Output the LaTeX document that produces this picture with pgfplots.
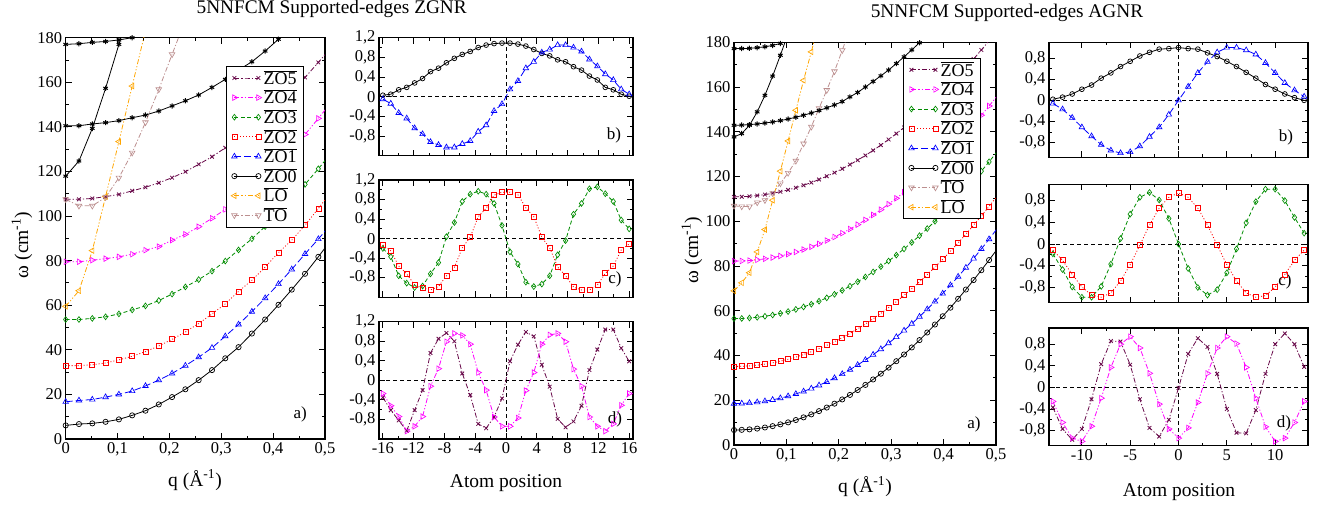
\documentclass[border=0pt]{standalone}
\usepackage{fontspec}
\setmainfont{Liberation Serif}
\usepackage{pgfplots}
\usepackage{pgfplotstable}
\pgfplotsset{compat=1.18}

\definecolor{czofive}{RGB}{103,7,72}
\definecolor{czothree}{RGB}{0,140,0}
\definecolor{corange}{RGB}{255,165,0}
\definecolor{cto}{RGB}{188,143,143}
\definecolor{cmag}{RGB}{255,0,255}

\pgfplotsset{
  zo5/.style={czofive, line width=0.8pt, dash pattern=on 5pt off 2pt on 1.2pt off 2pt, mark=x, mark size=2.6pt, mark options={solid, line width=0.8pt}},
  zo4/.style={cmag, line width=0.8pt, dash pattern=on 5pt off 2pt on 1.2pt off 2pt on 1.2pt off 2pt, mark=triangle, mark size=3.2pt, mark options={solid, line width=0.65pt, rotate=-90}},
  zo3/.style={czothree, line width=0.8pt, dash pattern=on 4pt off 2.5pt, mark=diamond, mark size=2.9pt, mark options={solid, line width=0.65pt}},
  zo2/.style={red, line width=0.8pt, dash pattern=on 1pt off 2pt, mark=square, mark size=2.5pt, mark options={solid, line width=0.7pt}},
  zo1/.style={blue, line width=0.8pt, dash pattern=on 7pt off 3pt, mark=triangle, mark size=3.2pt, mark options={solid, line width=0.65pt}},
  zo0/.style={black, line width=0.8pt, solid, mark=o, mark size=2.6pt, mark options={line width=0.7pt}},
  lo/.style={corange, line width=0.8pt, dash pattern=on 5pt off 2pt on 1.2pt off 2pt on 1.2pt off 2pt, mark=triangle, mark size=3.2pt, mark options={solid, line width=0.65pt, rotate=90}},
  to/.style={cto, line width=0.8pt, dash pattern=on 5pt off 2pt on 1.2pt off 2pt, mark=triangle, mark size=3.2pt, mark options={solid, line width=0.65pt, rotate=180}},
  hi/.style={black, line width=0.8pt, solid, mark=asterisk, mark size=2.6pt, mark options={line width=1pt}},
  legend image code/.code={\draw[mark repeat=2,mark phase=1,#1] plot coordinates {(0pt,0pt) (12pt,0pt) (24pt,0pt)};},
  myax/.style={scale only axis, anchor=south west, axis line style={line width=1.1pt},
    tick align=inside, tick pos=both, major tick length=6pt, minor tick length=3pt,
    every tick/.style={black, line width=0.9pt},
    tick label style={font=\fontsize{16.5}{16.5}\selectfont}, clip=true},
  bigax/.style={myax, xmin=0, xmax=0.5, ymin=0, ymax=180,
    xtick={0,0.1,0.2,0.3,0.4,0.5}, xticklabels={0,{0,1},{0,2},{0,3},{0,4},{0,5}},
    ytick={0,20,40,60,80,100,120,140,160,180}, yticklabels={0,20,40,60,80,100,120,140,160,180},
    minor tick num=1, legend cell align=left,
    legend style={draw=black, line width=1pt, fill=white, font=\fontsize{18}{18}\selectfont, inner xsep=5pt, inner ysep=2pt, row sep=0.2pt,
      /tikz/every even column/.append style={column sep=4pt}}},
  zsmall/.style={myax, width=254pt, xmin=-16.5, xmax=16.5, ymin=-1.2, ymax=1.2,
    xtick={-16,-12,-8,-4,0,4,8,12,16}, xticklabels={},
    ytick={-0.8,-0.4,0,0.4,0.8,1.2}, yticklabels={{-0,8},{-0,4},0,{0,4},{0,8},{1,2}},
    minor tick num=1},
  asmall/.style={myax, width=259pt, xmin=-13.4, xmax=13.4, ymin=-1.08, ymax=1.1,
    xtick={-10,-5,0,5,10}, xticklabels={},
    ytick={-0.8,-0.4,0,0.4,0.8}, yticklabels={{-0,8},{-0,4},0,{0,4},{0,8}},
    minor tick num=1},
}

\pgfplotstableread{
q z0 z1 z2 z3 z4 z5
0.0000 6.1 16.7 32.9 53.6 79.5 107.5
0.0256 6.7 17.3 32.9 53.6 79.5 107.5
0.0513 7.0 17.7 33.3 54.1 80.2 107.9
0.0769 7.7 18.8 34.1 54.8 80.9 108.7
0.1026 8.8 20.0 35.5 56.1 81.7 109.7
0.1282 10.6 21.5 37.1 57.9 82.9 111.3
0.1538 12.7 23.8 39.2 59.7 84.7 112.9
0.1795 15.5 26.4 41.7 62.1 86.3 114.9
0.2051 18.8 29.4 44.7 65.0 89.2 117.2
0.2308 22.3 32.9 48.0 68.2 91.8 119.9
0.2564 26.4 36.7 51.8 71.5 95.2 123.2
0.2821 30.9 40.9 56.1 75.3 99.0 126.6
0.3077 36.2 46.1 60.6 79.8 103.0 130.6
0.3333 41.2 51.4 66.2 84.8 107.5 134.8
0.3590 47.3 57.1 71.2 89.8 112.3 139.5
0.3846 53.6 63.2 77.1 95.3 117.5 144.5
0.4103 60.2 69.5 83.6 101.2 123.3 150.0
0.4359 67.0 76.1 89.2 107.5 129.7 156.0
0.4615 74.1 83.0 95.9 114.2 136.6 162.2
0.4872 81.7 89.7 103.4 121.2 143.8 168.9
0.5128 89.7 96.7 111.2 128.5 151.3 175.9
}\zbig

\pgfplotstableread{
q z0 z1 z2 z3 z4 z5
0.00000 6.70 18.50 35.10 56.50 82.20 110.90
0.01475 6.77 18.57 35.17 56.56 82.26 110.96
0.02950 6.98 18.77 35.36 56.76 82.45 111.16
0.04425 7.33 19.11 35.69 57.08 82.77 111.48
0.05900 7.82 19.58 36.15 57.53 83.22 111.93
0.07375 8.44 20.19 36.74 58.11 83.79 112.50
0.08850 9.21 20.93 37.47 58.82 84.49 113.21
0.10325 10.12 21.81 38.32 59.65 85.32 114.04
0.11800 11.16 22.82 39.30 60.62 86.28 115.00
0.13275 12.35 23.97 40.42 61.71 87.36 116.09
0.14750 13.68 25.25 41.67 62.94 88.57 117.31
0.16225 15.14 26.67 43.05 64.29 89.90 118.66
0.17700 16.74 28.22 44.56 65.77 91.37 120.13
0.19175 18.49 29.91 46.20 67.37 92.96 121.74
0.20650 20.37 31.73 47.98 69.11 94.68 123.47
0.22125 22.39 33.69 49.88 70.98 96.53 125.33
0.23600 24.56 35.78 51.92 72.97 98.50 127.32
0.25075 26.86 38.01 54.09 75.10 100.60 129.43
0.26550 29.30 40.37 56.39 77.35 102.83 131.68
0.28025 31.88 42.87 58.82 79.73 105.19 134.05
0.29500 34.60 45.50 61.38 82.24 107.67 136.55
0.30975 37.46 48.27 64.07 84.88 110.28 139.18
0.32450 40.46 51.17 66.90 87.65 113.02 141.94
0.33925 43.60 54.21 69.86 90.54 115.88 144.82
0.35400 46.88 57.38 72.94 93.57 118.88 147.84
0.36875 50.29 60.69 76.16 96.72 122.00 150.98
0.38350 53.85 64.13 79.51 100.00 125.24 154.25
0.39825 57.55 67.71 83.00 103.41 128.62 157.65
0.41300 61.38 71.42 86.61 106.95 132.12 161.17
0.42775 65.36 75.27 90.35 110.62 135.75 164.83
0.44250 69.48 79.25 94.23 114.42 139.51 168.61
0.45725 73.73 83.37 98.24 118.34 143.39 172.52
0.47200 78.12 87.62 102.38 122.40 147.40 176.56
0.48675 82.66 92.01 106.65 126.58 151.54 180.73
0.50150 87.30 96.50 111.05 130.90 155.80 185.00
}\abig

\pgfplotstableread{
x a b
-16.00 0.03 -0.05
-14.97 0.05 -0.14
-13.94 0.14 -0.33
-12.90 0.19 -0.44
-11.87 0.28 -0.64
-10.84 0.37 -0.76
-9.81 0.51 -0.92
-8.77 0.58 -0.98
-7.74 0.69 -1.03
-6.71 0.78 -1.03
-5.68 0.86 -0.96
-4.65 0.92 -0.90
-3.61 1.00 -0.71
-2.58 1.05 -0.58
-1.55 1.08 -0.29
-0.52 1.09 -0.15
0.52 1.09 0.15
1.55 1.07 0.32
2.58 1.03 0.58
3.61 0.96 0.71
4.65 0.88 0.90
5.68 0.83 0.96
6.71 0.75 1.05
7.74 0.71 1.05
8.77 0.61 1.00
9.81 0.54 0.92
10.84 0.42 0.76
11.87 0.34 0.62
12.90 0.19 0.46
13.94 0.14 0.34
14.97 0.05 0.15
16.00 0.01 0.05
}\zgb

\pgfplotstableread{
x a b
-16.00 -0.20 -0.13
-14.97 -0.37 -0.25
-13.94 -0.76 -0.56
-12.90 -0.91 -0.72
-11.87 -1.00 -0.95
-10.84 -0.97 -1.00
-9.81 -0.72 -1.05
-8.77 -0.49 -0.98
-7.74 0.04 -0.76
-6.71 0.33 -0.59
-5.68 0.76 -0.19
-4.65 0.91 0.03
-3.61 0.97 0.45
-2.58 0.91 0.62
-1.55 0.72 0.89
-0.52 0.27 0.95
0.52 -0.27 0.95
1.55 -0.52 0.90
2.58 -0.89 0.63
3.61 -0.98 0.45
4.65 -0.93 0.03
5.68 -0.76 -0.19
6.71 -0.33 -0.58
7.74 -0.04 -0.76
8.77 0.50 -0.99
9.81 0.72 -1.05
10.84 1.02 -1.05
11.87 1.06 -0.95
12.90 0.92 -0.71
13.94 0.76 -0.56
14.97 0.38 -0.23
16.00 0.20 -0.11
}\zgc

\pgfplotstableread{
x a b
-16.00 -0.35 -0.27
-14.97 -0.61 -0.52
-13.94 -0.82 -0.74
-12.90 -1.03 -1.04
-11.87 -0.61 -0.94
-10.84 -0.20 -0.74
-9.81 0.56 -0.12
-8.77 0.85 0.24
-7.74 0.97 0.79
-6.71 0.80 0.96
-5.68 0.14 0.92
-4.65 -0.30 0.74
-3.61 -0.89 0.16
-2.58 -0.98 -0.20
-1.55 -0.75 -0.75
-0.52 -0.37 -0.94
0.52 0.39 -0.94
1.55 0.73 -0.77
2.58 0.99 -0.21
3.61 0.90 0.16
4.65 0.32 0.74
5.68 -0.13 0.93
6.71 -0.79 0.96
7.74 -0.96 0.79
8.77 -0.84 0.23
9.81 -0.52 -0.12
10.84 0.21 -0.75
11.87 0.63 -0.94
12.90 1.04 -1.04
13.94 1.04 -0.89
14.97 0.66 -0.51
16.00 0.39 -0.27
}\zgd

\pgfplotstableread{
x a b
-13 0.02 -0.06
-12 0.06 -0.17
-11 0.12 -0.33
-10 0.21 -0.51
-9 0.29 -0.68
-8 0.42 -0.84
-7 0.52 -0.95
-6 0.64 -1.00
-5 0.74 -0.98
-4 0.84 -0.87
-3 0.91 -0.69
-2 0.97 -0.51
-1 0.98 -0.27
0 1.00 0.00
1 0.98 0.26
2 0.97 0.52
3 0.90 0.73
4 0.83 0.91
5 0.74 1.00
6 0.64 1.00
7 0.53 0.95
8 0.42 0.87
9 0.30 0.71
10 0.21 0.52
11 0.12 0.33
12 0.05 0.19
13 0.00 0.07
}\agb

\pgfplotstableread{
x a b
-13 -0.18 -0.11
-12 -0.47 -0.30
-11 -0.79 -0.56
-10 -0.98 -0.79
-9 -0.98 -0.94
-8 -0.78 -0.98
-7 -0.37 -0.90
-6 0.10 -0.68
-5 0.55 -0.38
-4 0.86 -0.02
-3 0.95 0.35
-2 0.81 0.66
-1 0.47 0.86
0 0.00 0.94
1 -0.45 0.86
2 -0.80 0.66
3 -0.94 0.35
4 -0.84 -0.02
5 -0.53 -0.38
6 -0.09 -0.68
7 0.39 -0.90
8 0.78 -0.98
9 1.01 -0.95
10 1.01 -0.79
11 0.80 -0.56
12 0.49 -0.30
13 0.20 -0.11
}\agc

\pgfplotstableread{
x a b
-13 -0.37 -0.26
-12 -0.77 -0.65
-11 -0.97 -0.94
-10 -0.77 -1.00
-9 -0.22 -0.72
-8 0.43 -0.20
-7 0.86 0.37
-6 0.85 0.80
-5 0.42 0.94
-4 -0.22 0.73
-3 -0.75 0.26
-2 -0.91 -0.31
-1 -0.60 -0.77
0 -0.01 -0.94
1 0.62 -0.75
2 0.91 -0.28
3 0.75 0.26
4 0.25 0.73
5 -0.40 0.94
6 -0.84 0.81
7 -0.85 0.37
8 -0.42 -0.20
9 0.25 -0.73
10 0.80 -1.00
11 1.00 -0.94
12 0.80 -0.65
13 0.38 -0.26
}\agd

\begin{document}
\begin{tikzpicture}
\useasboundingbox (0pt,0pt) rectangle (1329pt,505pt);

% ===== Left big (ZGNR) =====
\begin{axis}[bigax, at={(65.7pt,66pt)}, width=259.3pt, height=401.3pt,
  legend style={at={(0.617,0.930)}, anchor=north west}]
\addplot[zo5] table[x=q,y=z5]{\zbig}; \addlegendentry{$\overline{\hbox{ZO5}}$}
\addplot[zo4] table[x=q,y=z4]{\zbig}; \addlegendentry{$\overline{\hbox{ZO4}}$}
\addplot[zo3] table[x=q,y=z3]{\zbig}; \addlegendentry{$\overline{\hbox{ZO3}}$}
\addplot[zo2] table[x=q,y=z2]{\zbig}; \addlegendentry{$\overline{\hbox{ZO2}}$}
\addplot[zo1] table[x=q,y=z1]{\zbig}; \addlegendentry{$\overline{\hbox{ZO1}}$}
\addplot[zo0] table[x=q,y=z0]{\zbig}; \addlegendentry{$\overline{\hbox{ZO0}}$}
\addplot[lo] coordinates {(0,59.5) (0.0256,66.5) (0.0513,84.5) (0.0769,108.7) (0.1026,133.4) (0.1282,158.3) (0.1538,183.2)}; \addlegendentry{$\overline{\hbox{LO}}$}
\addplot[to] coordinates {(0,107.5) (0.0256,104.6) (0.0513,104.6) (0.0769,108.4) (0.1026,117.2) (0.1282,128.4) (0.1538,142.0) (0.1795,156.8) (0.2051,172.5) (0.2308,188)}; \addlegendentry{$\overline{\hbox{TO}}$}
\addplot[hi, forget plot] coordinates {(0,140.5) (0.0256,140.5) (0.0513,141.3) (0.0769,141.9) (0.1026,142.8) (0.1282,144.1) (0.1538,145.3) (0.1795,147.1) (0.2051,149.4) (0.2308,151.7) (0.2564,154.3) (0.2821,157.7) (0.3077,161.3) (0.3333,165.5) (0.3590,169.2) (0.3846,174.0) (0.4103,179.3) (0.4359,184.6)};
\addplot[hi, forget plot] coordinates {(0,117.9) (0.0256,124.7) (0.0513,139.3) (0.0769,157.3) (0.1026,177.0) (0.1282,197)};
\addplot[hi, forget plot] coordinates {(0,177.0) (0.0256,177.3) (0.0513,177.9) (0.0769,178.3) (0.1026,179.0) (0.1282,180.0) (0.1538,181)};
\node[font=\fontsize{17}{17}\selectfont] at (rel axis cs:0.904,0.062) {a)};
\end{axis}

% ===== Left small b =====
\begin{axis}[zsmall, at={(379pt,349.3pt)}, height=118pt]
\draw[black, line width=1pt, dash pattern=on 4pt off 3pt] (axis cs:-16.5,0) -- (axis cs:16.5,0);
\draw[black, line width=1pt, dash pattern=on 4pt off 3pt] (axis cs:0,-1.2) -- (axis cs:0,1.2);
\addplot[zo0, mark size=2.4pt] table[x=x,y=a]{\zgb};
\addplot[zo1] table[x=x,y=b]{\zgb};
\node[font=\fontsize{17}{17}\selectfont] at (rel axis cs:0.925,0.175) {b)};
\end{axis}

% ===== Left small c =====
\begin{axis}[zsmall, at={(379pt,207.7pt)}, height=117.3pt]
\draw[black, line width=1pt, dash pattern=on 4pt off 3pt] (axis cs:-16.5,0) -- (axis cs:16.5,0);
\draw[black, line width=1pt, dash pattern=on 4pt off 3pt] (axis cs:0,-1.2) -- (axis cs:0,1.2);
\addplot[zo3] table[x=x,y=a]{\zgc};
\addplot[zo2] table[x=x,y=b]{\zgc};
\node[font=\fontsize{17}{17}\selectfont] at (rel axis cs:0.929,0.156) {c)};
\end{axis}

% ===== Left small d =====
\begin{axis}[zsmall, at={(379pt,66pt)}, height=117.3pt,
  xticklabels={-16,-12,-8,-4,0,4,8,12,16}]
\draw[black, line width=1pt, dash pattern=on 4pt off 3pt] (axis cs:-16.5,0) -- (axis cs:16.5,0);
\draw[black, line width=1pt, dash pattern=on 4pt off 3pt] (axis cs:0,-1.2) -- (axis cs:0,1.2);
\addplot[zo5] table[x=x,y=a]{\zgd};
\addplot[zo4] table[x=x,y=b]{\zgd};
\node[font=\fontsize{17}{17}\selectfont] at (rel axis cs:0.929,0.17) {d)};
\end{axis}

% ===== Right big (AGNR) =====
\begin{axis}[bigax, at={(734pt,60pt)}, width=262pt, height=402.7pt,
  legend style={at={(0.644,0.962)}, anchor=north west}]
\addplot[zo5] table[x=q,y=z5]{\abig}; \addlegendentry{$\overline{\hbox{ZO5}}$}
\addplot[zo4] table[x=q,y=z4]{\abig}; \addlegendentry{$\overline{\hbox{ZO4}}$}
\addplot[zo3] table[x=q,y=z3]{\abig}; \addlegendentry{$\overline{\hbox{ZO3}}$}
\addplot[zo2] table[x=q,y=z2]{\abig}; \addlegendentry{$\overline{\hbox{ZO2}}$}
\addplot[zo1] table[x=q,y=z1]{\abig}; \addlegendentry{$\overline{\hbox{ZO1}}$}
\addplot[zo0] table[x=q,y=z0]{\abig}; \addlegendentry{$\overline{\hbox{ZO0}}$}
\addplot[to] coordinates {(0,106.9) (0.01475,106.6) (0.0295,106.6) (0.04425,108.4) (0.059,109.4) (0.07375,112.5) (0.0885,116.9) (0.10325,121.6) (0.118,127.0) (0.13275,134.7) (0.1475,142.2) (0.16225,150.5) (0.177,158.6) (0.19175,167.0) (0.2065,176.4) (0.22125,186)}; \addlegendentry{$\overline{\hbox{TO}}$}
\addplot[lo] coordinates {(0,68.9) (0.01475,72.5) (0.0295,77.0) (0.04425,86.3) (0.059,96.3) (0.07375,109.4) (0.0885,122.4) (0.10325,135.9) (0.118,149.6) (0.13275,163.0) (0.1475,175.7) (0.16225,189)}; \addlegendentry{$\overline{\hbox{LO}}$}
\addplot[hi, forget plot] coordinates {(0,142.9) (0.01475,143.0) (0.0295,143.2) (0.04425,143.5) (0.059,143.9) (0.07375,144.4) (0.0885,145.0) (0.10325,145.7) (0.118,146.5) (0.13275,147.4) (0.1475,148.4) (0.16225,149.5) (0.177,150.7) (0.19175,152.0) (0.2065,153.5) (0.22125,155.6) (0.236,157.6) (0.25075,160.0) (0.2655,162.5) (0.28025,165.0) (0.295,167.6) (0.30975,170.5) (0.3245,173.5) (0.33925,176.6) (0.354,179.8) (0.36875,183)};
\addplot[hi, forget plot] coordinates {(0,137.7) (0.01475,139.2) (0.0295,142.9) (0.04425,148.9) (0.059,156.3) (0.07375,164.9) (0.0885,174.2) (0.10325,184)};
\addplot[hi, forget plot] coordinates {(0,177.2) (0.01475,177.2) (0.0295,177.3) (0.04425,177.6) (0.059,178.0) (0.07375,178.6) (0.0885,179.5) (0.10325,180.6)};
\node[font=\fontsize{17}{17}\selectfont] at (rel axis cs:0.916,0.05) {a)};
\end{axis}

% ===== Right small b =====
\begin{axis}[asmall, at={(1049pt,347.7pt)}, height=115pt]
\draw[black, line width=1pt, dash pattern=on 4pt off 3pt] (axis cs:-13.4,0) -- (axis cs:13.4,0);
\draw[black, line width=1pt, dash pattern=on 4pt off 3pt] (axis cs:0,-1.08) -- (axis cs:0,1.1);
\addplot[zo0, mark size=2.4pt] table[x=x,y=a]{\agb};
\addplot[zo1] table[x=x,y=b]{\agb};
\node[font=\fontsize{17}{17}\selectfont] at (rel axis cs:0.915,0.172) {b)};
\end{axis}

% ===== Right small c =====
\begin{axis}[asmall, at={(1049pt,202.3pt)}, height=118.4pt]
\draw[black, line width=1pt, dash pattern=on 4pt off 3pt] (axis cs:-13.4,0) -- (axis cs:13.4,0);
\draw[black, line width=1pt, dash pattern=on 4pt off 3pt] (axis cs:0,-1.08) -- (axis cs:0,1.1);
\addplot[zo3] table[x=x,y=a]{\agc};
\addplot[zo2] table[x=x,y=b]{\agc};
\node[font=\fontsize{17}{17}\selectfont] at (rel axis cs:0.911,0.177) {c)};
\end{axis}

% ===== Right small d =====
\begin{axis}[asmall, at={(1049pt,59.3pt)}, height=117.7pt,
  xticklabels={-10,-5,0,5,10}]
\draw[black, line width=1pt, dash pattern=on 4pt off 3pt] (axis cs:-13.4,0) -- (axis cs:13.4,0);
\draw[black, line width=1pt, dash pattern=on 4pt off 3pt] (axis cs:0,-1.08) -- (axis cs:0,1.1);
\addplot[zo5] table[x=x,y=a]{\agd};
\addplot[zo4] table[x=x,y=b]{\agd};
\node[font=\fontsize{17}{17}\selectfont] at (rel axis cs:0.907,0.189) {d)};
\end{axis}

% ===== Titles and labels =====
\node[anchor=base, font=\fontsize{19.3}{20}\selectfont] at (331.7pt,491pt) {5NNFCM Supported-edges ZGNR};
\node[anchor=base, font=\fontsize{19.3}{20}\selectfont] at (1007pt,487.5pt) {5NNFCM Supported-edges AGNR};
\node[font=\fontsize{19.5}{20}\selectfont] at (195pt,25pt) {q (Å\textsuperscript{-1})};
\node[font=\fontsize{19.5}{20}\selectfont] at (865pt,18.3pt) {q (Å\textsuperscript{-1})};
\node[rotate=90, font=\fontsize{19.5}{20}\selectfont] at (22pt,260pt) {ω (cm\textsuperscript{-1})};
\node[rotate=90, font=\fontsize{19.5}{20}\selectfont] at (692pt,255pt) {ω (cm\textsuperscript{-1})};
\node[font=\fontsize{19.5}{20}\selectfont] at (506pt,21.7pt) {Atom position};
\node[font=\fontsize{19.5}{20}\selectfont] at (1179pt,13.3pt) {Atom position};
\end{tikzpicture}
\end{document}
